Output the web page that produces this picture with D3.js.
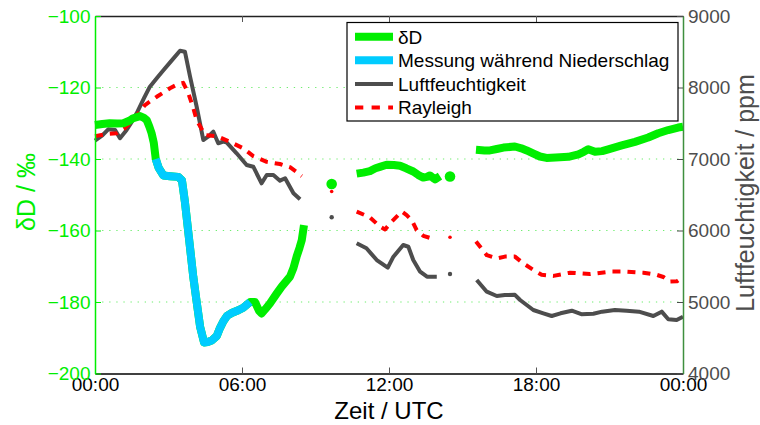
<!DOCTYPE html>
<html>
<head>
<meta charset="utf-8">
<script src="https://cdn.jsdelivr.net/npm/d3@7"></script>
<style>
  html, body { margin: 0; padding: 0; background: #ffffff; }
  svg { display: block; font-family: "Liberation Sans", Arial, sans-serif; }
</style>
</head>
<body>
<svg id="chart" width="760" height="425"></svg>
<script>
// ---- Data -------------------------------------------------------------
// Time of day in hours (UTC); null marks a gap in the record.
const hoursD = [0.0,0.3,0.6,0.9,1.16,1.4,1.56,1.84,2.0,2.11,2.22,2.31,2.4,2.48,
  2.6,2.79,3.06,3.4,3.55,3.67,3.85,4.01,4.15,4.29,4.45,4.6,4.76,4.97,5.1,5.24,5.4,5.6,5.85,6.05,6.33,
  6.53,6.7,6.8,6.95,7.14,7.4,7.62,7.96,8.1,8.23,8.35,8.44,8.53,
  null,9.66,null,
  10.68,10.95,11.22,11.45,11.63,11.9,12.2,12.45,12.7,12.99,13.2,13.4,13.55,13.67,13.8,13.88,14.08,
  null,14.49,null,
  15.55,15.9,16.12,16.4,16.67,17.14,17.4,17.62,17.9,18.16,18.43,18.8,19.32,19.73,19.95,20.13,20.41,
  20.7,20.95,21.5,22.04,22.58,22.99,23.4,23.8,24.0];
// δD in ‰
const deltaD = [-130.5,-130.2,-130.0,-130.1,-130.0,-129.3,-128.6,-128.0,-128.5,-129.1,-131.0,-132.8,-135.5,-140.0,
  -142.5,-144.6,-144.8,-145.0,-146.0,-152.0,-163.0,-172.9,-180.0,-186.9,-191.3,-191.2,-190.8,-189.5,-187.3,-185.4,-183.8,-183.0,-182.3,-181.6,-180.0,
  -180.0,-182.5,-183.2,-182.0,-180.4,-177.8,-175.7,-172.9,-170.5,-167.3,-164.8,-162.7,-158.5,
  null,-147.0,null,
  -144.1,-143.8,-143.4,-142.6,-142.2,-141.6,-141.7,-141.9,-142.6,-143.5,-144.5,-145.2,-145.0,-144.6,-145.3,-145.7,-144.8,
  null,-144.9,null,
  -137.4,-137.6,-137.6,-137.2,-136.8,-136.5,-137.0,-137.6,-138.5,-139.3,-139.7,-139.6,-139.4,-138.7,-138.0,-137.3,-138.0,
  -137.8,-137.3,-136.2,-135.2,-134.0,-132.8,-131.9,-131.2,-131.0];
// Measurement taken during precipitation (1) or not (0)
const duringRain = [0,0,0,0,0,0,0,0,0,0,0,0,0,1,
  1,1,1,1,1,1,1,1,1,1,1,1,1,1,1,1,1,1,1,1,1,
  0,0,0,0,0,0,0,0,0,0,0,0,0,
  0,0,0,
  0,0,0,0,0,0,0,0,0,0,0,0,0,0,0,0,0,
  0,0,0,
  0,0,0,0,0,0,0,0,0,0,0,0,0,0,0,0,0,
  0,0,0,0,0,0,0,0,0,0];

// Humidity (ppm)
const hoursQ = [0.0,0.3,0.54,0.82,1.02,1.29,1.5,1.7,2.0,2.24,2.52,2.8,3.1,3.47,3.67,3.88,4.15,4.42,4.62,4.83,5.03,5.24,5.38,5.78,
  6.19,6.46,6.8,7.01,7.28,7.55,7.76,8.1,8.37,
  null,9.66,null,
  10.68,11.08,11.5,11.95,12.18,12.58,12.79,12.99,13.27,13.55,13.95,
  null,14.49,null,
  15.58,15.99,16.4,16.73,17.14,17.35,17.89,18.3,18.64,19.0,19.46,19.85,20.34,20.7,21.22,21.7,22.2,22.79,23.13,23.4,23.74,24.0];
const humidity = [7256,7330,7415,7406,7290,7406,7520,7639,7850,8011,8129,8245,8365,8515,8501,8151,7731,7266,7312,7382,7220,7242,7228,7080,
  6916,6892,6660,6776,6776,6697,6730,6520,6436,
  null,6185,null,
  5821,5751,5587,5480,5634,5797,5773,5587,5424,5354,5354,
  null,5392,null,
  5308,5144,5084,5098,5100,5028,4888,4842,4804,4842,4878,4830,4835,4865,4888,4878,4865,4804,4865,4758,4748,4795];

// Rayleigh δD (‰)
const hoursR = [0.0,0.5,0.88,1.2,1.56,2.04,2.52,3.06,3.4,3.6,3.81,4.0,4.15,4.49,4.97,5.51,6.05,6.46,7.01,7.55,7.96,8.2,8.44,
  null,9.66,null,
  10.68,11.22,11.63,11.84,12.11,12.52,12.72,12.93,13.13,13.4,13.74,13.88,
  null,14.49,null,
  15.55,15.99,16.4,16.73,17.14,17.48,17.89,18.23,18.71,19.39,20.2,21.02,21.7,22.38,22.93,23.2,23.47,23.75,24.0];
const rayleigh = [-133.6,-133.0,-132.8,-131.5,-129.1,-124.9,-122.6,-120.2,-119.0,-118.7,-121.6,-125.5,-129.1,-133.3,-133.6,-135.2,-137.0,-139.2,-140.8,-141.4,-142.3,-143.5,-144.8,
  null,-149.1,null,
  -154.7,-156.3,-158.9,-159.7,-157.5,-154.7,-155.7,-157.1,-159.9,-161.5,-162.2,-162.5,
  null,-161.9,null,
  -163.1,-166.9,-167.8,-167.3,-167.3,-169.2,-171.0,-172.4,-172.7,-171.8,-172.2,-171.5,-171.5,-171.8,-172.4,-173.0,-174.3,-174.2,-173.0];

const xTicks = [0, 6, 12, 18, 24];
const xTickLabels = ["00:00", "06:00", "12:00", "18:00", "00:00"];
const leftTicks = [-200, -180, -160, -140, -120, -100];
const rightTicks = [4000, 5000, 6000, 7000, 8000, 9000];
const legendLabels = ["δD", "Messung während Niederschlag", "Luftfeuchtigkeit", "Rayleigh"];

// ---- Layout & styles ---------------------------------------------------
const GREEN = "#00ee00", BLUE = "#00ccff", GREY = "#4d4d4d", RED = "#ff0000";
const plot = { left: 95, right: 683, top: 16, bottom: 373.5 };

const svg = d3.select("#chart");
const x = d3.scaleLinear().domain([0, 24]).range([plot.left, plot.right]);
const yL = d3.scaleLinear().domain([-200, -100]).range([plot.bottom, plot.top]);
const yR = d3.scaleLinear().domain([4000, 9000]).range([plot.bottom, plot.top]);

// Horizontal dotted grid
svg.append("g").selectAll("line").data(leftTicks.slice(1, -1)).join("line")
  .attr("x1", plot.left).attr("x2", plot.right)
  .attr("y1", d => yL(d)).attr("y2", d => yL(d))
  .attr("stroke", "#70ee70").attr("stroke-width", 1.2)
  .attr("stroke-dasharray", "1.3,5.8");

// Build point lists from parallel arrays
function points(hours, vals, extra) {
  return hours.map((h, i) => ({ h, v: vals[i], f: extra ? extra[i] : 0 }));
}
// Split into runs of consecutive defined points
function runs(pts) {
  const out = []; let cur = [];
  pts.forEach(p => {
    if (p.h === null || p.v === null) { if (cur.length) out.push(cur); cur = []; }
    else cur.push(p);
  });
  if (cur.length) out.push(cur);
  return out;
}

function drawSeries(pts, yScale, color, width, dash, dotR) {
  const line = d3.line().x(d => x(d.h)).y(d => yScale(d.v));
  const g = svg.append("g");
  runs(pts).forEach(r => {
    if (r.length === 1) {
      g.append("circle").attr("cx", x(r[0].h)).attr("cy", yScale(r[0].v))
        .attr("r", dotR).attr("fill", color);
    } else {
      g.append("path").attr("d", line(r)).attr("fill", "none")
        .attr("stroke", color).attr("stroke-width", width)
        .attr("stroke-linejoin", "round").attr("stroke-linecap", "butt")
        .attr("stroke-dasharray", dash);
    }
  });
}

// Humidity (right axis)
drawSeries(points(hoursQ, humidity), yR, GREY, 4, null, 2.2);
// Rayleigh δD (left axis)
drawSeries(points(hoursR, rayleigh), yL, RED, 4, "8,7", 1.8);

// δD: green outside precipitation, blue during precipitation
(function () {
  const pts = points(hoursD, deltaD, duringRain);
  const line = d3.line().x(d => x(d.h)).y(d => yL(d.v));
  const g = svg.append("g");
  runs(pts).forEach(r => {
    if (r.length === 1) {
      g.append("circle").attr("cx", x(r[0].h)).attr("cy", yL(r[0].v))
        .attr("r", 5.3).attr("fill", GREEN);
      return;
    }
    // whole run in green first
    g.append("path").attr("d", line(r)).attr("fill", "none")
      .attr("stroke", GREEN).attr("stroke-width", 8)
      .attr("stroke-linejoin", "round").attr("stroke-linecap", "butt");
    // precipitation stretches drawn over it in blue
    let seg = [];
    r.forEach(p => {
      if (p.f === 1) seg.push(p);
      else if (seg.length) {
        g.append("path").attr("d", line(seg)).attr("fill", "none")
          .attr("stroke", BLUE).attr("stroke-width", 8)
          .attr("stroke-linejoin", "round").attr("stroke-linecap", "butt");
        seg = [];
      }
    });
  });
})();

// ---- Axes ---------------------------------------------------------------
const fmtX = d => xTickLabels[xTicks.indexOf(d)];

const gBottom = svg.append("g").attr("transform", `translate(0,${plot.bottom})`)
  .call(d3.axisBottom(x).tickValues(xTicks).tickFormat(fmtX).tickSizeInner(-6).tickSizeOuter(0).tickPadding(4));
gBottom.select(".domain").attr("stroke", "#000").attr("stroke-width", 1.5);
gBottom.selectAll(".tick line").attr("stroke", "#555");
gBottom.selectAll("text").attr("font-size", 19).attr("fill", "#000")
  .attr("font-family", "Liberation Sans, Arial, sans-serif");

const gTop = svg.append("g").attr("transform", `translate(0,${plot.top})`)
  .call(d3.axisTop(x).tickValues(xTicks).tickFormat("").tickSizeInner(-6).tickSizeOuter(0));
gTop.select(".domain").attr("stroke", "#222").attr("stroke-width", 1.3);
gTop.selectAll(".tick line").attr("stroke", "#555");

const gLeft = svg.append("g").attr("transform", `translate(${plot.left},0)`)
  .call(d3.axisLeft(yL).tickValues(leftTicks).tickFormat(d3.format("d")).tickSizeInner(-6).tickSizeOuter(0).tickPadding(4.5));
gLeft.select(".domain").attr("stroke", GREEN).attr("stroke-width", 1.5);
gLeft.selectAll(".tick line").attr("stroke", GREEN);
gLeft.selectAll("text").attr("font-size", 19).attr("fill", GREEN)
  .attr("font-family", "Liberation Sans, Arial, sans-serif");

const gRight = svg.append("g").attr("transform", `translate(${plot.right},0)`)
  .call(d3.axisRight(yR).tickValues(rightTicks).tickFormat(d3.format("d")).tickSizeInner(-6).tickSizeOuter(0).tickPadding(5));
gRight.select(".domain").attr("stroke", "#3f8f3f").attr("stroke-width", 1.5);
gRight.selectAll(".tick line").attr("stroke", GREY);
gRight.selectAll("text").attr("font-size", 19).attr("fill", GREY)
  .attr("font-family", "Liberation Sans, Arial, sans-serif");

// Axis titles
svg.append("text").attr("x", (plot.left + plot.right) / 2).attr("y", 419)
  .attr("text-anchor", "middle").attr("font-size", 24).attr("fill", "#000")
  .text("Zeit / UTC");
svg.append("text").attr("transform", `translate(35,${192}) rotate(-90)`)
  .attr("text-anchor", "middle").attr("font-size", 25).attr("fill", GREEN)
  .text("δD / ‰");
svg.append("text").attr("transform", `translate(754,${193}) rotate(-90)`)
  .attr("text-anchor", "middle").attr("font-size", 25).attr("fill", GREY)
  .text("Luftfeuchtigkeit / ppm");

// ---- Legend -----------------------------------------------------------------
const legend = svg.append("g");
legend.append("rect").attr("x", 347).attr("y", 22.5).attr("width", 331).attr("height", 98.5)
  .attr("fill", "#fff").attr("stroke", "#000").attr("stroke-width", 1.2);
const legendStyles = [
  { color: GREEN, width: 8, dash: null },
  { color: BLUE, width: 8, dash: null },
  { color: GREY, width: 4, dash: null },
  { color: RED, width: 4, dash: "8.3,8.3" }
];
legendLabels.forEach((lab, i) => {
  const cy = 36.7 + i * 23.6;
  legend.append("line").attr("x1", 355).attr("x2", 393).attr("y1", cy).attr("y2", cy)
    .attr("stroke", legendStyles[i].color).attr("stroke-width", legendStyles[i].width)
    .attr("stroke-dasharray", legendStyles[i].dash);
  legend.append("text").attr("x", 398).attr("y", cy + 6.8)
    .attr("font-size", 19).attr("fill", "#000").text(lab);
});
</script>
</body>
</html>
